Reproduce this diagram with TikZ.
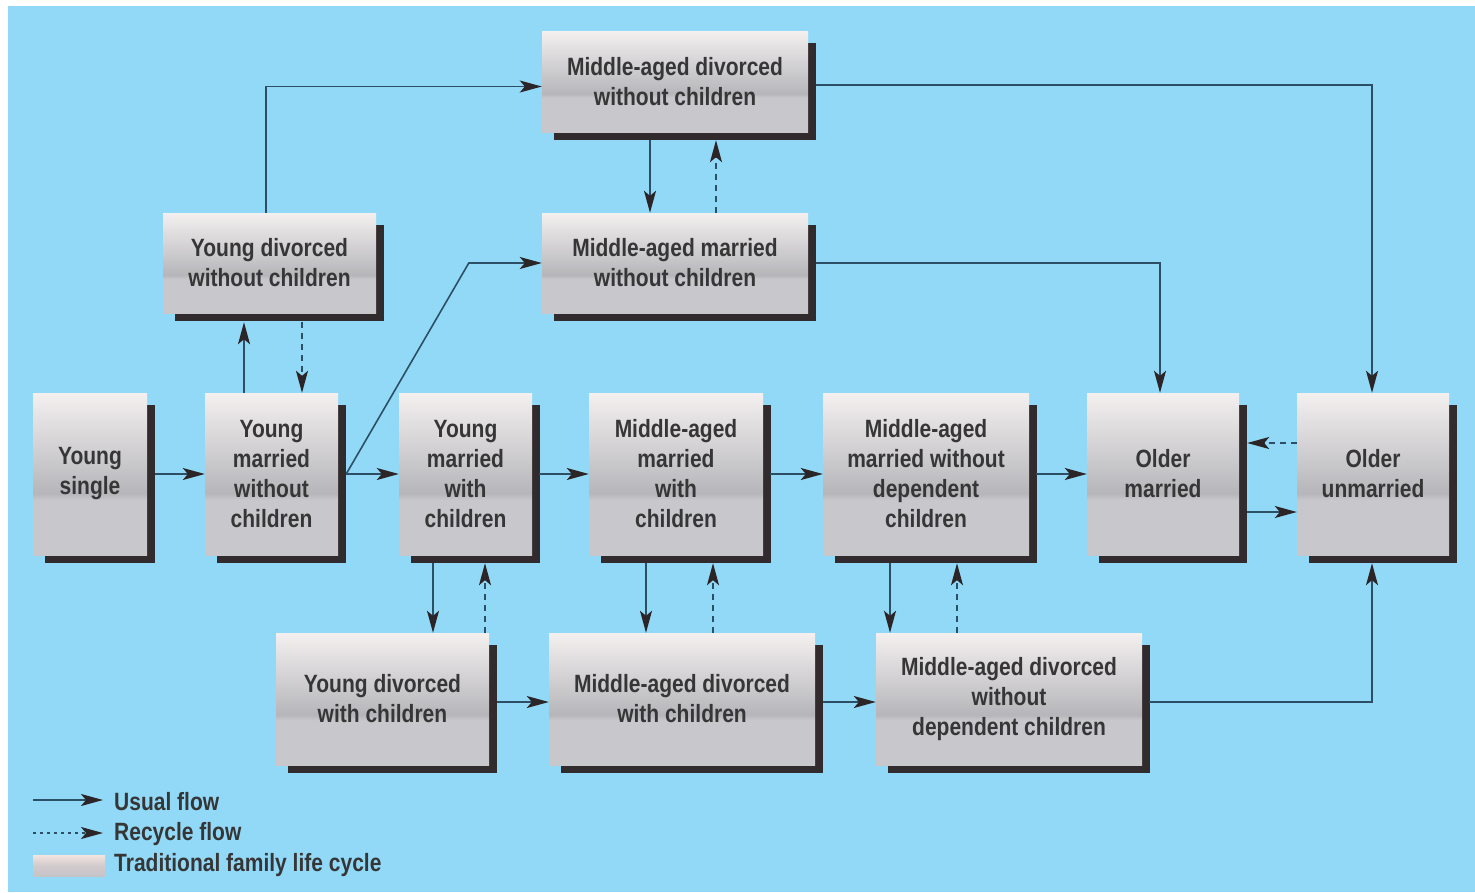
\documentclass[tikz,border=0pt]{standalone}
\usepackage{fontspec}
\setmainfont{Liberation Sans}[UprightFont=* Bold, FakeStretch=0.84]
\usetikzlibrary{arrows.meta,calc}
\definecolor{bgc}{HTML}{92D9F8}
\definecolor{boxtop}{HTML}{F4F0F0}
\definecolor{boxband}{HTML}{B6B6BA}
\definecolor{boxlow}{HTML}{C8C8CC}
\definecolor{shadowc}{HTML}{312B2D}
\definecolor{txt}{HTML}{363636}
\definecolor{linec}{HTML}{2C4F66}
\definecolor{tipc}{HTML}{2B2527}
\definecolor{legtop}{HTML}{F3E4DE}
\definecolor{legmid}{HTML}{D2CACC}
\definecolor{leglow}{HTML}{C6C3C8}
\pgfdeclareverticalshading{boxshade}{100bp}{color(0bp)=(boxlow); color(25bp)=(boxlow); color(42bp)=(boxlow); color(44bp)=(boxband); color(75bp)=(boxtop); color(100bp)=(boxtop)}
\pgfdeclareverticalshading{legshade}{100bp}{color(0bp)=(leglow); color(25bp)=(leglow); color(50bp)=(legmid); color(75bp)=(legtop); color(100bp)=(legtop)}
\pgfdeclarelayer{back}
\pgfdeclarelayer{shad}
\pgfsetlayers{back,shad,main}
\tikzset{
  box/.style={shade, shading=boxshade, inner sep=0pt, align=center, text=txt,
    font=\fontsize{25}{30}\selectfont},
  usual/.style={draw=linec, line width=1.6pt, -{Stealth[length=22pt,width=12pt,inset=5pt,color=tipc]}},
  recycle/.style={usual, dash pattern=on 6pt off 5pt},
  legtext/.style={anchor=west, inner sep=0pt, text=txt, font=\fontsize{25}{30}\selectfont}
}
\begin{document}
\begin{tikzpicture}[x=1pt,y=-1pt]
\useasboundingbox (0,0) rectangle (1475,892);
\begin{pgfonlayer}{back}
\fill[white] (0,0) rectangle (1475,892);
\fill[bgc] (8,6) rectangle (1475,892);
\end{pgfonlayer}

% main row
\node[box, minimum width=114pt, minimum height=162pt] (ys) at (90,474) {Young\\single};
\node[box, minimum width=133pt, minimum height=162pt] (ymwo) at (271.5,474) {Young\\married\\without\\children};
\node[box, minimum width=133pt, minimum height=162pt] (ymw) at (465.5,474) {Young\\married\\with\\children};
\node[box, minimum width=174pt, minimum height=162pt] (mamw) at (676,474) {Middle-aged\\married\\with\\children};
\node[box, minimum width=206pt, minimum height=162pt] (mamwod) at (926,474) {Middle-aged\\married without\\dependent\\children};
\node[box, minimum width=152pt, minimum height=162pt] (om) at (1163,474) {Older\\married};
\node[box, minimum width=152pt, minimum height=162pt] (ou) at (1373,474) {Older\\unmarried};
% upper
\node[box, minimum width=213pt, minimum height=100pt] (ydwo) at (269.5,263) {Young divorced\\without children};
\node[box, minimum width=266pt, minimum height=101pt] (madwo) at (675,81.5) {Middle-aged divorced\\without children};
\node[box, minimum width=266pt, minimum height=100pt] (mamwo) at (675,263) {Middle-aged married\\without children};
% lower
\node[box, minimum width=213pt, minimum height=132pt] (ydw) at (382.5,699) {Young divorced\\with children};
\node[box, minimum width=266pt, minimum height=132pt] (madw) at (682,699) {Middle-aged divorced\\with children};
\node[box, minimum width=266pt, minimum height=132pt] (madwod) at (1009,699) {Middle-aged divorced\\without\\dependent children};

\begin{pgfonlayer}{shad}
\foreach \n in {ys,ymwo,ymw,mamw,mamwod,om,ou,ydwo,madwo,mamwo,ydw,madw,madwod}
  \fill[shadowc] ($(\n.north west)+(12,12)$) rectangle ($(\n.south east)+(8,8)$);
\end{pgfonlayer}

% horizontal main flow
\draw[usual] ($(ys.east)+(8,0)$) -- (ymwo.west);
\draw[usual] ($(ymwo.east)+(8,0)$) -- (ymw.west);
\draw[usual] ($(ymw.east)+(7,0)$) -- (mamw.west);
\draw[usual] ($(mamw.east)+(7,0)$) -- (mamwod.west);
\draw[usual] ($(mamwod.east)+(7,0)$) -- (om.west);
% diagonal to middle-aged married without children
\draw[usual] ($(ymwo.east)+(8,0)$) -- ($(mamwo.west)+(-73,0)$) -- (mamwo.west);
% young married without children <-> young divorced without children
\draw[usual] ($(ymwo.north)+(-27.5,0)$) -- ($(ydwo.south)+(-25.5,9)$);
\draw[recycle] ($(ydwo.south)+(32.5,9)$) -- ($(ymwo.north)+(30.5,0)$);
% young divorced without -> middle-aged divorced without
\draw[usual] ($(ydwo.north)+(-3.5,0)$) |- ($(madwo.west)+(0,5)$);
% middle-aged divorced without <-> middle-aged married without
\draw[usual] ($(madwo.south)+(-25,8)$) -- ($(mamwo.north)+(-25,0)$);
\draw[recycle] ($(mamwo.north)+(41,0)$) -- ($(madwo.south)+(41,8)$);
% to older
\draw[usual] ($(madwo.east)+(8,3.5)$) -| ($(ou.north)+(-1,0)$);
\draw[usual] ($(mamwo.east)+(8,0)$) -| ($(om.north)+(-3,0)$);
\draw[recycle] ($(ou.west)+(0,-31)$) -- ($(om.east)+(8,-31)$);
\draw[usual] ($(om.east)+(8,38)$) -- ($(ou.west)+(0,38)$);
% down / up to divorced with children
\draw[usual] ($(ymw.south)+(-32.5,8)$) -- ($(ydw.north)+(50.5,0)$);
\draw[recycle] ($(ydw.north)+(102.5,0)$) -- ($(ymw.south)+(19.5,8)$);
\draw[usual] ($(mamw.south)+(-30,8)$) -- ($(madw.north)+(-36,0)$);
\draw[recycle] ($(madw.north)+(31,0)$) -- ($(mamw.south)+(37,8)$);
\draw[usual] ($(mamwod.south)+(-36,8)$) -- ($(madwod.north)+(-119,0)$);
\draw[recycle] ($(madwod.north)+(-52,0)$) -- ($(mamwod.south)+(31,8)$);
% lower row
\draw[usual] ($(ydw.east)+(8,3)$) -- ($(madw.west)+(0,3)$);
\draw[usual] ($(madw.east)+(8,3)$) -- ($(madwod.west)+(0,3)$);
\draw[usual] ($(madwod.east)+(7,3)$) -| ($(ou.south)+(-1,8)$);

% legend
\coordinate (la1) at (33,800);
\coordinate (lb1) at (103,800);
\coordinate (la2) at (33,833);
\coordinate (lb2) at (103,833);
\draw[usual] (la1) -- (lb1);
\draw[recycle, dash pattern=on 3pt off 4pt] (la2) -- (lb2);
\shade[shading=legshade] (33,855) rectangle (105,876);
\node[legtext] (lt1) at (114,802) {Usual flow};
\node[legtext] (lt2) at (114,834) {Recycle flow};
\node[legtext] (lt3) at (114,865) {Traditional family life cycle};
\end{tikzpicture}
\end{document}
